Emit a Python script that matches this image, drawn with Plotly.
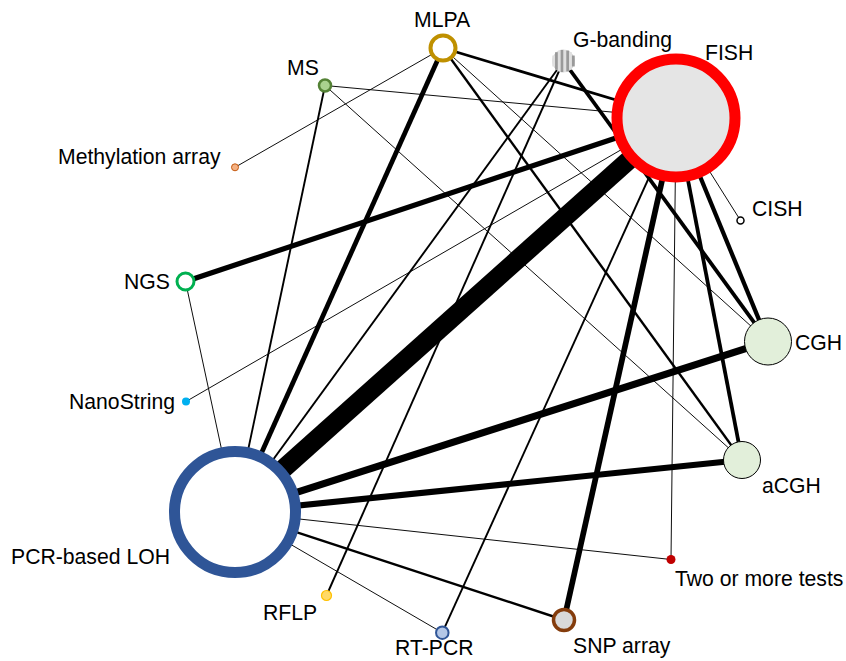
import math
import plotly.graph_objects as go

# ---------------- data ----------------
node_names = ["MLPA", "G-banding", "FISH", "CISH", "CGH", "aCGH", "Two or more tests",
              "SNP array", "RT-PCR", "RFLP", "PCR-based LOH", "NanoString", "NGS",
              "Methylation array", "MS"]

edge_source = ["FISH", "PCR-based LOH", "PCR-based LOH", "NGS", "MLPA", "SNP array",
               "FISH", "FISH", "G-banding", "MLPA", "MLPA", "MS", "G-banding", "G-banding",
               "FISH", "PCR-based LOH", "PCR-based LOH", "PCR-based LOH", "FISH", "FISH",
               "FISH", "FISH", "MS", "MLPA", "MLPA", "NGS"]
edge_target = ["PCR-based LOH", "CGH", "aCGH", "FISH", "PCR-based LOH", "FISH",
               "CGH", "aCGH", "CGH", "FISH", "aCGH", "PCR-based LOH", "PCR-based LOH", "RFLP",
               "RT-PCR", "SNP array", "RT-PCR", "Two or more tests", "Two or more tests", "CISH",
               "MS", "NanoString", "aCGH", "CGH", "Methylation array", "PCR-based LOH"]
edge_weight = [20, 7.5, 6.5, 5.5, 5, 6,
               4.5, 4, 4, 3, 2.5, 2, 2, 2,
               2, 2.5, 1, 1, 1, 1,
               1, 1, 1, 1, 1, 1]

# ---------------- layout (pixel space) ----------------
W, H = 846, 661
pos = {
    "MLPA": (443, 48), "G-banding": (563.5, 61), "FISH": (676, 118), "CISH": (740.5, 220.5),
    "CGH": (768, 341.5), "aCGH": (742, 460), "Two or more tests": (671, 559.5),
    "SNP array": (564, 620), "RT-PCR": (442.3, 632.7), "RFLP": (326.5, 595.5),
    "PCR-based LOH": (235, 512), "NanoString": (186, 401.5), "NGS": (185.5, 281.5),
    "Methylation array": (235, 167.3), "MS": (325, 85.5),
}
style = {
    # name: (size, fill, line color, line width)
    "MLPA": (25, "#FFFFFF", "#BF9000", 4),
    "G-banding": (22.5, "#D4D4D4", "#D4D4D4", 0),
    "FISH": (118, "#E5E5E5", "#FF0000", 11),
    "CISH": (7, "#FFFFFF", "#000000", 1.5),
    "CGH": (47, "#E2EFDA", "#000000", 1),
    "aCGH": (37, "#E2EFDA", "#000000", 1),
    "Two or more tests": (9, "#C00000", "#C00000", 0),
    "SNP array": (21, "#D9D9D9", "#843C0C", 3.5),
    "RT-PCR": (12.5, "#B4C7E7", "#2F5597", 2),
    "RFLP": (10, "#FFD966", "#FFC000", 1.2),
    "PCR-based LOH": (121, "#FFFFFF", "#2F5597", 11),
    "NanoString": (8, "#00B0F0", "#00B0F0", 0),
    "NGS": (17, "#FFFFFF", "#00B050", 3),
    "Methylation array": (7, "#F4B183", "#C55A11", 1),
    "MS": (12, "#A9D18E", "#548235", 2.5),
}
labels = {
    # name: (x, y, xanchor)
    "MLPA": (442, 19, "center"),
    "G-banding": (572, 40, "left"),
    "FISH": (704, 52, "left"),
    "CISH": (751, 208, "left"),
    "CGH": (794, 342, "left"),
    "aCGH": (761, 485, "left"),
    "Two or more tests": (674, 578, "left"),
    "SNP array": (572, 646, "left"),
    "RT-PCR": (434, 647.5, "center"),
    "RFLP": (318, 612, "right"),
    "PCR-based LOH": (171, 556, "right"),
    "NanoString": (176, 402, "right"),
    "NGS": (171, 281, "right"),
    "Methylation array": (222, 157, "right"),
    "MS": (303, 67, "center"),
}

fig = go.Figure()

# edges
for s, t, w in zip(edge_source, edge_target, edge_weight):
    (x0, y0), (x1, y1) = pos[s], pos[t]
    fig.add_trace(go.Scatter(x=[x0, x1], y=[y0, y1], mode="lines",
                             line=dict(color="#000000", width=w * 0.95),
                             hoverinfo="skip", showlegend=False))

# nodes
fig.add_trace(go.Scatter(
    x=[pos[n][0] for n in node_names], y=[pos[n][1] for n in node_names],
    mode="markers", text=node_names, hoverinfo="text", showlegend=False,
    marker=dict(size=[style[n][0] for n in node_names],
                color=[style[n][1] for n in node_names],
                line=dict(color=[style[n][2] for n in node_names],
                          width=[style[n][3] for n in node_names]),
                opacity=1),
))

# G-banding stripes
gx, gy = pos["G-banding"]
r = style["G-banding"][0] / 2
shapes = []
nstr = 8
sw = 2 * r / nstr
for k in range(nstr):
    dx = -r + sw * (k + 0.5)
    c = math.sqrt(max(r * r - dx * dx, 0))
    col = "#999999" if k % 2 == 1 else "#E0E0E0"
    shapes.append(dict(type="line", x0=gx + dx, x1=gx + dx, y0=gy - c, y1=gy + c,
                       line=dict(color=col, width=sw), layer="above"))

annotations = []
for n in node_names:
    x, y, xa = labels[n]
    annotations.append(dict(x=x, y=y, text=n, showarrow=False, xanchor=xa, yanchor="middle",
                            borderpad=0,
                            font=dict(family="Arial, Liberation Sans, sans-serif", size=21.2,
                                      color="#000000")))

fig.update_layout(
    width=W, height=H, margin=dict(l=0, r=0, t=0, b=0),
    paper_bgcolor="white", plot_bgcolor="white",
    xaxis=dict(range=[0, W], visible=False, fixedrange=True),
    yaxis=dict(range=[H, 0], visible=False, fixedrange=True),
    shapes=shapes, annotations=annotations,
)

fig.write_html("out.html", config={"displayModeBar": False},
               post_script="document.body.style.margin='0';document.body.style.overflow='hidden';")
